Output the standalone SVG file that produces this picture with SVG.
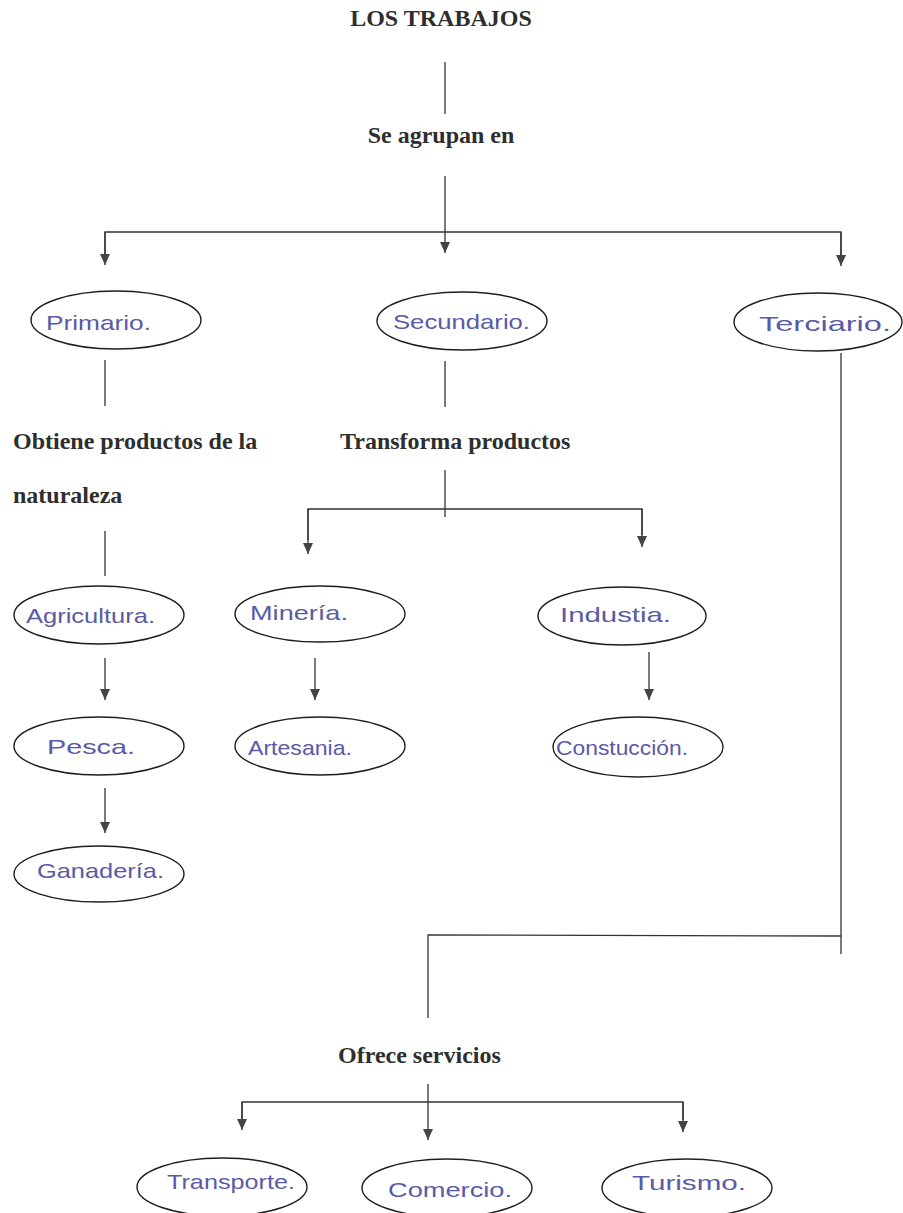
<svg xmlns="http://www.w3.org/2000/svg" width="903" height="1213" viewBox="0 0 903 1213">
<style>
.t{font-family:"Liberation Serif","Times New Roman",serif;font-weight:bold;font-size:24px;fill:#2e2e2e}
.h{font-family:"Liberation Sans",Arial,sans-serif;font-size:21px;fill:#5a5aa6}
.e{fill:#fff;stroke:#1e1e1e;stroke-width:1.4}
.c{fill:none;stroke:#333;stroke-width:1.3}
.a{fill:none;stroke:#333;stroke-width:1.3;marker-end:url(#ar)}
</style>
<defs>
<marker id="ar" markerUnits="userSpaceOnUse" markerWidth="12" markerHeight="11" refX="11" refY="5" orient="auto" viewBox="0 0 12 10">
<path d="M0,0 L11,5 L0,10 Z" fill="#444"/>
</marker>
</defs>
<rect width="903" height="1213" fill="#fff"/>
<g id="connectors">
<line class="c" x1="445" y1="62" x2="445" y2="114"/>
<line class="a" x1="445" y1="176" x2="445" y2="253"/>
<polyline class="c" points="105,255 105,232 841,232 841,255"/>
<line class="a" x1="105" y1="232" x2="105" y2="265"/>
<line class="a" x1="841" y1="232" x2="841" y2="266"/>
<line class="c" x1="105" y1="360" x2="105" y2="406"/>
<line class="c" x1="445" y1="361" x2="445" y2="407"/>
<line class="c" x1="445" y1="470" x2="445" y2="517"/>
<polyline class="c" points="308,540 308,509 642,509 642,535"/>
<line class="a" x1="308" y1="509" x2="308" y2="554"/>
<line class="a" x1="642" y1="509" x2="642" y2="547"/>
<line class="c" x1="105" y1="531" x2="105" y2="576"/>
<line class="a" x1="105" y1="658" x2="105" y2="700"/>
<line class="a" x1="315" y1="658" x2="315" y2="700"/>
<line class="a" x1="649" y1="652" x2="649" y2="700"/>
<line class="a" x1="105" y1="788" x2="105" y2="833"/>
<line class="c" x1="841" y1="353" x2="841" y2="954"/>
<polyline class="c" points="428,1018 428,935 841,936"/>
<line class="a" x1="428" y1="1084" x2="428" y2="1140"/>
<polyline class="c" points="242,1120 242,1102 683,1102 683,1120"/>
<line class="a" x1="242" y1="1102" x2="242" y2="1130"/>
<line class="a" x1="683" y1="1102" x2="683" y2="1132"/>
</g>
<g id="title"><text class="t" x="441" y="26" text-anchor="middle">LOS TRABAJOS</text></g>
<g id="agrupan"><text class="t" x="441" y="143" text-anchor="middle">Se agrupan en</text></g>
<g id="primario"><ellipse class="e" cx="116" cy="320" rx="85" ry="29"/><text class="h" x="46" y="330" textLength="105" lengthAdjust="spacingAndGlyphs">Primario.</text></g>
<g id="secundario"><ellipse class="e" cx="462" cy="321" rx="85" ry="29"/><text class="h" x="393" y="329" textLength="137" lengthAdjust="spacingAndGlyphs">Secundario.</text></g>
<g id="terciario"><ellipse class="e" cx="818" cy="322" rx="84" ry="29"/><text class="h" x="759" y="331" textLength="132" lengthAdjust="spacingAndGlyphs">Terciario.</text></g>
<g id="obtiene"><text class="t" x="13" y="449">Obtiene productos de la</text><text class="t" x="13" y="503">naturaleza</text></g>
<g id="transforma"><text class="t" x="340" y="449">Transforma productos</text></g>
<g id="agricultura"><ellipse class="e" cx="99" cy="615" rx="85" ry="29"/><text class="h" x="26" y="623" textLength="129" lengthAdjust="spacingAndGlyphs">Agricultura.</text></g>
<g id="mineria"><ellipse class="e" cx="320" cy="614" rx="85" ry="28"/><text class="h" x="250" y="620" textLength="98" lengthAdjust="spacingAndGlyphs">Minería.</text></g>
<g id="industria"><ellipse class="e" cx="622" cy="616" rx="84" ry="29"/><text class="h" x="560" y="622" textLength="111" lengthAdjust="spacingAndGlyphs">Industia.</text></g>
<g id="pesca"><ellipse class="e" cx="99" cy="746" rx="85" ry="29"/><text class="h" x="47" y="754" textLength="88" lengthAdjust="spacingAndGlyphs">Pesca.</text></g>
<g id="artesania"><ellipse class="e" cx="320" cy="746" rx="85" ry="29"/><text class="h" x="248" y="755" textLength="104" lengthAdjust="spacingAndGlyphs">Artesania.</text></g>
<g id="construccion"><ellipse class="e" cx="638" cy="747" rx="85" ry="30"/><text class="h" x="556" y="755" textLength="132" lengthAdjust="spacingAndGlyphs">Constucción.</text></g>
<g id="ganaderia"><ellipse class="e" cx="99" cy="874" rx="85" ry="28"/><text class="h" x="37" y="878" textLength="127" lengthAdjust="spacingAndGlyphs">Ganadería.</text></g>
<g id="ofrece"><text class="t" x="338" y="1063">Ofrece servicios</text></g>
<g id="transporte"><ellipse class="e" cx="222" cy="1187" rx="85" ry="29"/><text class="h" x="167" y="1189" textLength="128" lengthAdjust="spacingAndGlyphs">Transporte.</text></g>
<g id="comercio"><ellipse class="e" cx="447" cy="1188" rx="85" ry="29"/><text class="h" x="388" y="1197" textLength="124" lengthAdjust="spacingAndGlyphs">Comercio.</text></g>
<g id="turismo"><ellipse class="e" cx="687" cy="1188" rx="85" ry="29"/><text class="h" x="632" y="1190" textLength="114" lengthAdjust="spacingAndGlyphs">Turismo.</text></g>
</svg>
